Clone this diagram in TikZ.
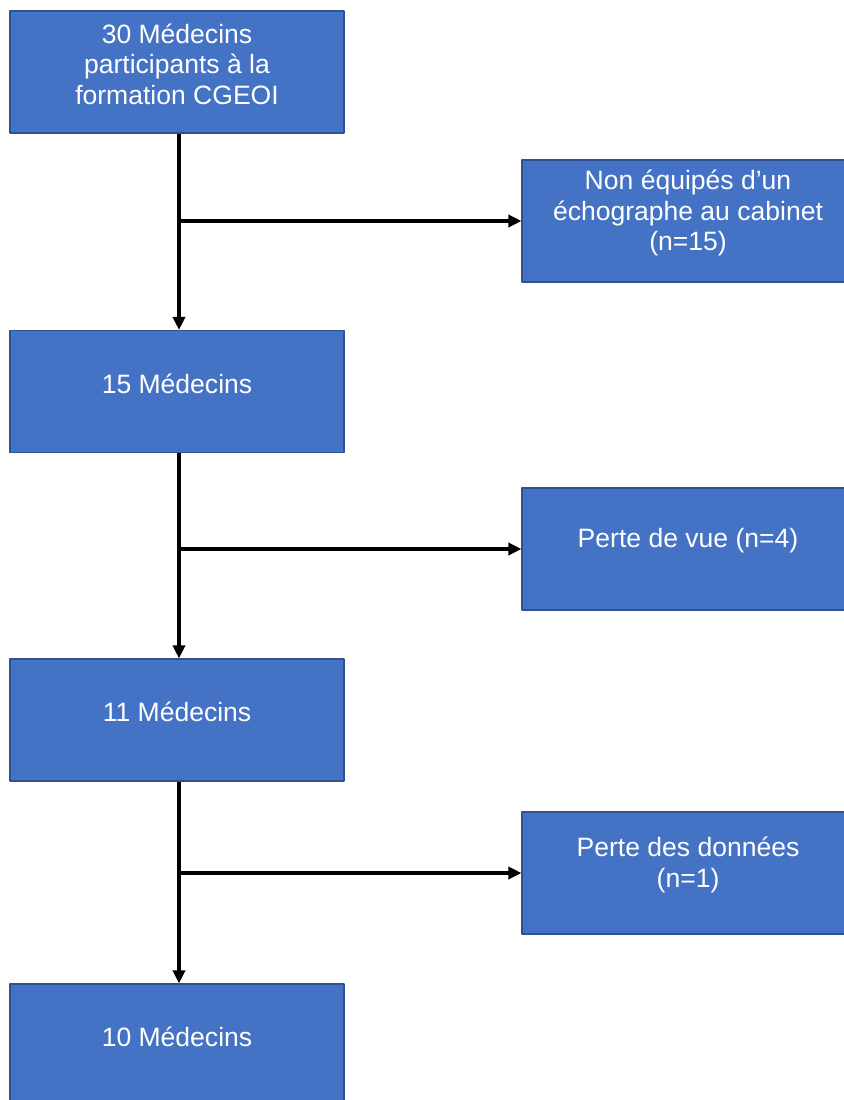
\documentclass[tikz,border=0pt]{standalone}
\usepackage{fontspec}
\setmainfont{Liberation Sans}
\usetikzlibrary{arrows.meta}
\definecolor{boxblue}{HTML}{4472C4}
\definecolor{boxedge}{HTML}{2F528F}
\begin{document}
\begin{tikzpicture}[line join=round, >={Triangle[length=0.26cm,width=0.24cm]},
	box/.style={rectangle, fill=boxblue, draw=boxedge, line width=0.6pt, minimum width=6.68cm, minimum height=2.44cm, inner sep=0pt},
	side/.style={box, minimum width=6.64cm},
	txt/.style={text=white, align=center, font=\fontsize{15.1}{17.3}\selectfont, yshift=0.16cm},
	link/.style={line width=2.1pt}]
	\useasboundingbox (0,0) rectangle (16.86,-22);
	% left column
	\node[box, label={[txt]center:{30 Médecins\\participants à la\\formation CGEOI}}] (b30) at (3.54,-1.44) {};
	\node[box, label={[txt]center:{15 Médecins}}] (b15) at (3.54,-7.83) {};
	\node[box, label={[txt]center:{11 Médecins}}] (b11) at (3.54,-14.4) {};
	\node[box, label={[txt]center:{10 Médecins}}] (b10) at (3.54,-20.9) {};
	% exclusions
	\node[side, label={[txt]center:{Non équipés d’un\\échographe au cabinet\\(n=15)}}] (nA) at (13.76,-4.42) {};
	\node[side, label={[txt]center:{Perte de vue (n=4)}}] (nB) at (13.76,-10.98) {};
	\node[side, label={[txt]center:{Perte des données\\(n=1)}}] (nC) at (13.76,-17.46) {};
	\foreach \a/\b/\c in {b30/b15/nA, b15/b11/nB, b11/b10/nC}{
		\draw[link,->] ([xshift=0.04cm]\a.south) -- ([xshift=0.04cm]\b.north);
		\draw[link,->] ([xshift=0.04cm]\a.south |- \c.west) -- (\c.west);
	}
\end{tikzpicture}
\end{document}
